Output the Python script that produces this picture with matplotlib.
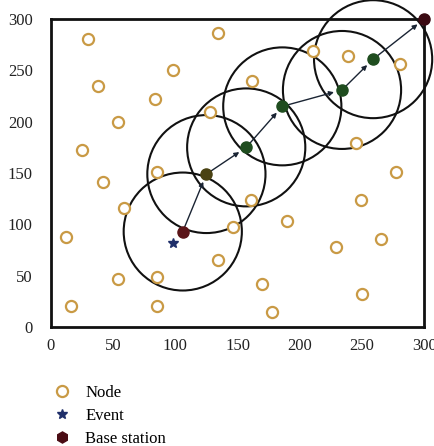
import matplotlib.pyplot as plt
from matplotlib.patches import Ellipse

# sensor nodes (x, y)
node_x = [30, 98, 38, 84, 54, 25, 128, 134, 85, 42, 59, 12, 54, 85, 16, 85, 134,
          277, 249, 161, 190, 146, 229, 265, 170, 178, 250, 211, 239, 281, 162, 245]
node_y = [281, 250, 235, 222, 200, 172, 210, 287, 151, 141, 116, 88, 47, 49, 20, 20, 65,
          151, 124, 124, 103, 97, 78, 86, 42, 15, 32, 269, 264, 256, 240, 179]

# event location
event_x = [98]
event_y = [82]

# routing path: source -> relays -> base station
path_x = [106, 125, 157, 186, 234, 259, 300]
path_y = [93, 149, 175, 215, 231, 261, 300]
path_colors = ["#5a1418", "#4a4212", "#1f4d1f", "#1f4d1f", "#1f4d1f", "#1f4d1f", "#3a0a12"]

# communication range drawn around each hop (x and y half-widths in axis units)
range_x = 47.5
range_y = 57.5

plt.rcParams["font.family"] = ["Liberation Serif", "DejaVu Serif"]

fig = plt.figure(figsize=(4.35, 4.46), dpi=100)
ax = fig.add_axes([0.117, 0.267, 0.858, 0.690])

for cx, cy in zip(path_x[:-1], path_y[:-1]):
    ax.add_patch(Ellipse((cx, cy), 2 * range_x, 2 * range_y, fill=False,
                         edgecolor="#111111", lw=1.5, zorder=2, clip_on=False))

ax.plot(node_x, node_y, "o", ms=8, mfc="white", mec="#c99a45", mew=1.6,
        zorder=3, label="Node")
ax.plot(event_x, event_y, "*", ms=7, color="#1f2f6a", zorder=4, label="Event")

for i in range(len(path_x) - 1):
    ax.annotate("", xy=(path_x[i + 1], path_y[i + 1]), xytext=(path_x[i], path_y[i]),
                arrowprops=dict(arrowstyle="-|>", color="#1a2433", lw=1.0,
                                mutation_scale=7, shrinkA=0, shrinkB=6),
                zorder=4)

for i in range(len(path_x)):
    ax.plot(path_x[i], path_y[i], "o", ms=8, color=path_colors[i], zorder=5,
            clip_on=False)
ax.plot([], [], "h", ms=8, color="#4a0c14", label="Base station")

ax.set_xlim(0, 300)
ax.set_ylim(0, 300)
ax.set_xticks([0, 50, 100, 150, 200, 250, 300])
ax.set_yticks([0, 50, 100, 150, 200, 250, 300])
ax.tick_params(length=0, labelsize=12, colors="#222222")
ax.tick_params(axis="y", pad=13)
ax.tick_params(axis="x", pad=8)
for s in ax.spines.values():
    s.set_linewidth(2)
    s.set_color("#111111")

fig.legend(loc="upper left", bbox_to_anchor=(0.085, 0.17), frameon=False,
           fontsize=12, handletextpad=0.8, labelspacing=0.4, handlelength=1.2)

fig.savefig("out.png", dpi=100)
